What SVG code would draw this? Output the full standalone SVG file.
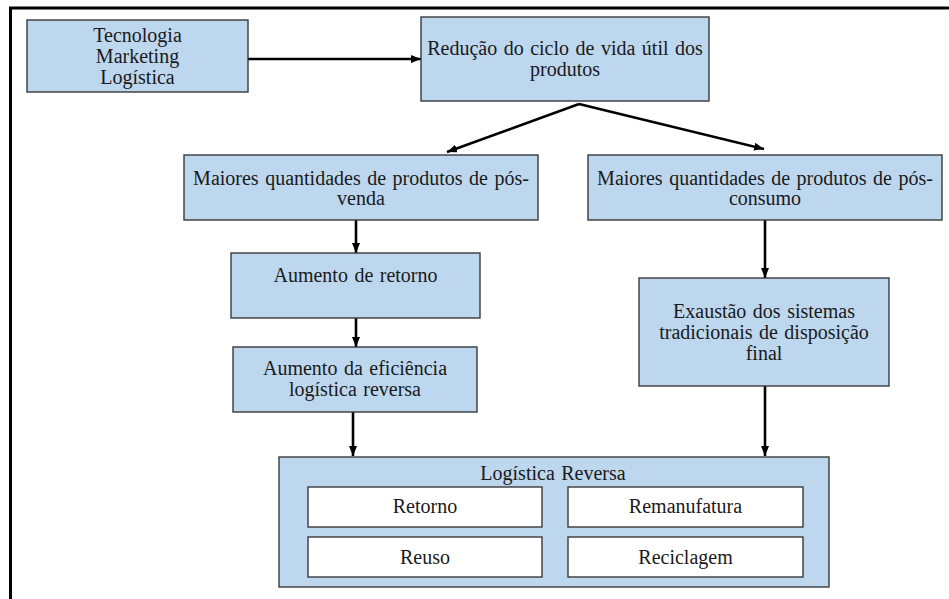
<svg xmlns="http://www.w3.org/2000/svg" width="949" height="599" viewBox="0 0 949 599">
  <style>
    .box { fill: #BDD7EE; stroke: #3a3a3a; stroke-width: 1.4; }
    .inner { fill: #ffffff; stroke: #3a3a3a; stroke-width: 1.4; }
    .lbl { font-family: "Liberation Serif", "Times New Roman", serif; font-size: 20px; fill: #1a1a1a; text-anchor: middle; word-spacing: 1.5px; }
    .conn { stroke: #000000; stroke-width: 2.6; fill: none; marker-end: url(#head); }
  </style>
  <defs>
    <marker id="head" markerUnits="userSpaceOnUse" markerWidth="10" markerHeight="8" refX="10" refY="4" orient="auto">
      <path d="M0,0 L10,4 L0,8 z" fill="#000000"/>
    </marker>
  </defs>

  <rect width="949" height="599" fill="#ffffff"/>
  <!-- outer frame: top and left rules -->
  <path d="M10.5,599 L10.5,8 L949,8" fill="none" stroke="#000000" stroke-width="3"/>

  <g id="connectors">
    <line class="conn" x1="248" y1="59" x2="421" y2="59"/>
    <line class="conn" x1="579" y1="104" x2="447" y2="152"/>
    <line class="conn" x1="579" y1="104" x2="764" y2="149"/>
    <line class="conn" x1="356" y1="220" x2="356" y2="253"/>
    <line class="conn" x1="356" y1="318" x2="356" y2="347"/>
    <line class="conn" x1="353" y1="412" x2="353" y2="456"/>
    <line class="conn" x1="765" y1="220" x2="765" y2="278"/>
    <line class="conn" x1="765" y1="386" x2="765" y2="456"/>
  </g>

  <g id="fatores">
    <rect class="box" x="27" y="20" width="221" height="72"/>
    <text class="lbl" x="137.5" y="42">Tecnologia</text>
    <text class="lbl" x="137.5" y="63">Marketing</text>
    <text class="lbl" x="137.5" y="84">Logística</text>
  </g>

  <g id="reducao">
    <rect class="box" x="421" y="17" width="288" height="84"/>
    <text class="lbl" x="565" y="55">Redução do ciclo de vida útil dos</text>
    <text class="lbl" x="565" y="76">produtos</text>
  </g>

  <g id="pos-venda">
    <rect class="box" x="184" y="155" width="354" height="65"/>
    <text class="lbl" x="361" y="185">Maiores quantidades de produtos de pós-</text>
    <text class="lbl" x="361" y="205">venda</text>
  </g>

  <g id="pos-consumo">
    <rect class="box" x="588" y="155" width="354" height="65"/>
    <text class="lbl" x="765" y="185">Maiores quantidades de produtos de pós-</text>
    <text class="lbl" x="765" y="205">consumo</text>
  </g>

  <g id="aumento-retorno">
    <rect class="box" x="231" y="253" width="249" height="65"/>
    <text class="lbl" x="355.5" y="282">Aumento de retorno</text>
  </g>

  <g id="aumento-eficiencia">
    <rect class="box" x="233" y="347" width="244" height="65"/>
    <text class="lbl" x="355" y="375">Aumento da eficiência</text>
    <text class="lbl" x="355" y="396">logística reversa</text>
  </g>

  <g id="exaustao">
    <rect class="box" x="639" y="278" width="250" height="108"/>
    <text class="lbl" x="764" y="318">Exaustão dos sistemas</text>
    <text class="lbl" x="764" y="339">tradicionais de disposição</text>
    <text class="lbl" x="764" y="360">final</text>
  </g>

  <g id="logistica-reversa">
    <rect class="box" x="279" y="457" width="550" height="130"/>
    <text class="lbl" x="553" y="480">Logística Reversa</text>
    <rect class="inner" x="308" y="487" width="234" height="40"/>
    <text class="lbl" x="425" y="513">Retorno</text>
    <rect class="inner" x="568" y="487" width="235" height="40"/>
    <text class="lbl" x="685.5" y="513">Remanufatura</text>
    <rect class="inner" x="308" y="537" width="234" height="40"/>
    <text class="lbl" x="425" y="564">Reuso</text>
    <rect class="inner" x="568" y="537" width="235" height="40"/>
    <text class="lbl" x="685.5" y="564">Reciclagem</text>
  </g>
</svg>
